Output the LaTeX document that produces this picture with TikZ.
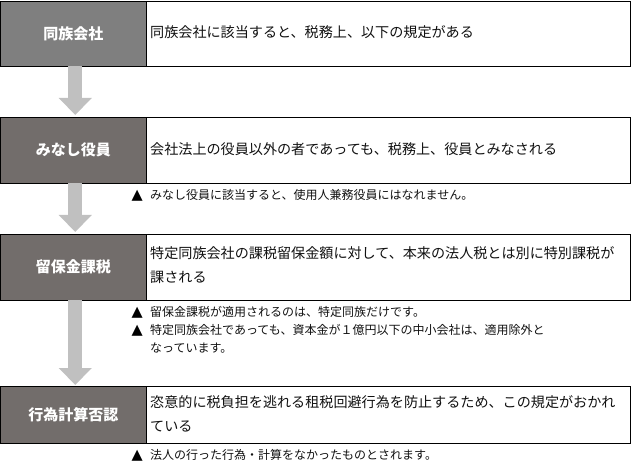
\documentclass[tikz,border=0pt]{standalone}
\usepackage{fontspec}
\setmainfont{Noto Sans CJK JP}
\newfontfamily\symfont{DejaVu Sans}
\usetikzlibrary{arrows.meta}
\definecolor{lgrayA}{HTML}{7F7F7F}
\definecolor{lgrayB}{HTML}{726D6B}
\definecolor{arrgray}{HTML}{C0C0C0}
\definecolor{txt}{HTML}{111111}
\tikzset{
  lbox/.style={draw=black, line width=0.9pt, fill=lgrayB, anchor=north west, inner sep=0pt, outer sep=0pt,
    minimum width=145.5pt, text=white, font=\fontsize{15}{18}\selectfont\bfseries},
  rbox/.style={draw=black, line width=0.9pt, fill=white, anchor=north west, inner sep=0pt, outer sep=0pt,
    minimum width=484pt},
  btext/.style={anchor=west, inner sep=0pt, text=txt, align=left, font=\fontsize{14.1}{24}\selectfont},
  ntext/.style={anchor=west, inner sep=0pt, text=txt, align=left, font=\fontsize{12}{18}\selectfont},
  warn/.style={anchor=base west, inner sep=0pt, text=black, font=\symfont\fontsize{14.5}{15}\selectfont},
  flow/.style={draw=arrgray, line width=14pt, -{Triangle[width=32pt,length=17pt]}}
}
\begin{document}
\begin{tikzpicture}[x=1pt,y=-1pt]
\useasboundingbox (0,0) rectangle (634,470);
% boxes
\node[rbox, minimum height=65pt] (r1) at (146,1) {};
\node[lbox, fill=lgrayA, minimum height=65pt] (l1) at (0.5,1) {同族会社};
\node[rbox, minimum height=66pt] (r2) at (146,117) {};
\node[lbox, minimum height=66pt] (l2) at (0.5,117) {みなし役員};
\node[rbox, minimum height=66pt] (r3) at (146,234) {};
\node[lbox, minimum height=66pt] (l3) at (0.5,234) {留保金課税};
\node[rbox, minimum height=57pt] (r4) at (146,386) {};
\node[lbox, minimum height=57pt] (l4) at (0.5,386) {行為計算否認};
% box texts
\node[btext] (t1) at (150,32.5) {同族会社に該当すると、税務上、以下の規定がある};
\node[btext] (t2) at (150,149) {会社法上の役員以外の者であっても、税務上、役員とみなされる};
\node[btext] (t3) at (150,265) {特定同族会社の課税留保金額に対して、本来の法人税とは別に特別課税が\\課される};
\node[btext] (t4) at (150,413.5) {恣意的に税負担を逃れる租税回避行為を防止するため、この規定がおかれ\\ている};
% notes
\node[warn] (w1) at (131.5,199.5) {▲};
\node[ntext] (n1) at (150,195) {みなし役員に該当すると、使用人兼務役員にはなれません。};
\node[warn] (w2) at (131.5,316.5) {▲};
\node[ntext] (n2) at (150,312) {留保金課税が適用されるのは、特定同族だけです。};
\node[warn] (w3) at (131.5,334) {▲};
\node[ntext] (n3) at (150,338.5) {特定同族会社であっても、資本金が１億円以下の中小会社は、適用除外と\\なっています。};
\node[warn] (w4) at (131.5,459.5) {▲};
\node[ntext] (n4) at (150,455) {法人の行った行為・計算をなかったものとされます。};
% arrows
\draw[flow] ([xshift=2pt]l1.south) -- ([xshift=2pt,yshift=2pt]l2.north);
\draw[flow] ([xshift=2pt]l2.south) -- ([xshift=2pt,yshift=2pt]l3.north);
\draw[flow] ([xshift=2pt]l3.south) -- ([xshift=2pt,yshift=1pt]l4.north);
\end{tikzpicture}
\end{document}
